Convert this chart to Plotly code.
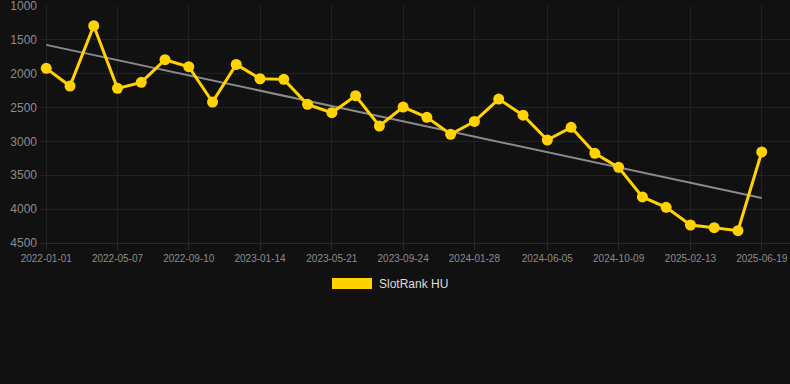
import numpy as np
import pandas as pd
import plotly.graph_objects as go

dates = ["2022-01-01", "2022-02-12", "2022-03-26", "2022-05-07", "2022-06-18", "2022-07-30",
         "2022-09-10", "2022-10-22", "2022-12-03", "2023-01-14", "2023-02-25", "2023-04-08",
         "2023-05-21", "2023-07-02", "2023-08-13", "2023-09-24", "2023-11-05", "2023-12-17",
         "2024-01-28", "2024-03-11", "2024-04-23", "2024-06-05", "2024-07-17", "2024-08-28",
         "2024-10-09", "2024-11-20", "2025-01-01", "2025-02-13", "2025-03-27", "2025-05-08",
         "2025-06-19"]
ranks = [1920, 2182, 1291, 2216, 2127, 1793, 1896, 2418, 1862, 2074, 2083, 2452,
         2576, 2325, 2772, 2492, 2644, 2895, 2705, 2374, 2612, 2979, 2792, 3176,
         3383, 3821, 3974, 4235, 4274, 4319, 3156]
tick_dates = ["2022-01-01", "2022-05-07", "2022-09-10", "2023-01-14", "2023-05-21", "2023-09-24",
              "2024-01-28", "2024-06-05", "2024-10-09", "2025-02-13", "2025-06-19"]
y_ticks = [1000, 1500, 2000, 2500, 3000, 3500, 4000, 4500]
series_name = "SlotRank HU"

x = pd.to_datetime(dates)
days = (x - x[0]).days.values.astype(float)
coef = np.polyfit(days, np.array(ranks, dtype=float), 1)
trend_x = [x[0], x[-1]]
trend_y = [np.polyval(coef, days[0]), np.polyval(coef, days[-1])]

fig = go.Figure()
fig.add_trace(go.Scatter(x=trend_x, y=trend_y, mode="lines",
                         line=dict(color="#8a8a8a", width=2), showlegend=False, hoverinfo="skip"))
fig.add_trace(go.Scatter(x=x, y=ranks, mode="lines+markers", name=series_name,
                         line=dict(color="#FFD200", width=3),
                         marker=dict(color="#FFD200", size=11), showlegend=False))

grid = "#222222"
fig.update_layout(
    width=790, height=384,
    margin=dict(l=40, r=0, t=6, b=141),
    paper_bgcolor="#111111", plot_bgcolor="#111111",
    font=dict(family="Liberation Sans, Arial, sans-serif", color="#8c8c8c"),
    xaxis=dict(type="date", range=["2021-12-21", "2025-08-08"],
               tickvals=tick_dates, ticktext=tick_dates,
               tickfont=dict(size=10, color="#8c8c8c"),
               showgrid=True, gridcolor=grid, gridwidth=1,
               ticks="outside", ticklen=6, tickcolor="#2a2a2a",
               showline=True, linecolor="#2a2a2a", zeroline=False,
               ticklabeloverflow="allow"),
    yaxis=dict(range=[4501, 999], tickvals=y_ticks,
               tickfont=dict(size=12, color="#8c8c8c"),
               showgrid=True, gridcolor=grid, gridwidth=1,
               zeroline=False, ticks="", ticklabelstandoff=2,
               ticklabeloverflow="allow"),
)

fig.add_shape(type="rect", xref="paper", yref="paper",
              x0=(332 - 40) / 750, x1=(372 - 40) / 750,
              y0=(243 - 278) / 237, y1=(243 - 289) / 237,
              fillcolor="#FFD200", line=dict(width=0))
fig.add_annotation(xref="paper", yref="paper", x=(377 - 40) / 750, y=(243 - 284) / 237,
                   text=series_name, showarrow=False, xanchor="left", yanchor="middle",
                   font=dict(size=12, color="#dddddd"))

fig.write_html("out.html")
